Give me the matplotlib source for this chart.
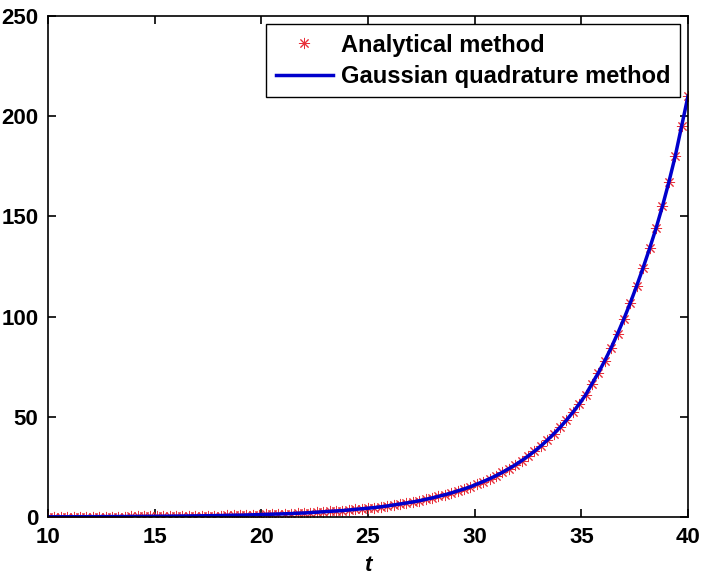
import numpy as np
import matplotlib; matplotlib.use('Agg'); import matplotlib.pyplot as plt

plt.rcParams['font.family'] = ['Liberation Sans', 'DejaVu Sans']

# sample times (step 0.3 from 10 to 40) and values
t = np.linspace(10, 40, 101)
analytical = [0.09, 0.10, 0.11, 0.12, 0.13, 0.14, 0.15, 0.16, 0.17, 0.19,
              0.20, 0.22, 0.23, 0.25, 0.27, 0.29, 0.32, 0.34, 0.37, 0.40,
              0.43, 0.47, 0.51, 0.55, 0.59, 0.64, 0.69, 0.74, 0.80, 0.87,
              0.9, 1.0, 1.1, 1.2, 1.3, 1.4, 1.5, 1.6, 1.7, 1.9,
              2.0, 2.2, 2.4, 2.6, 2.8, 3.0, 3.2, 3.5, 3.8, 4.1,
              4.4, 4.7, 5.1, 5.5, 6.0, 6.5, 7.0, 7.5, 8.1, 8.8,
              9.5, 10.3, 11.1, 12.0, 13.0, 14.0, 15.1, 16.4, 17.7, 19.1,
              20.6, 22.3, 24.1, 26.0, 28.1, 30.4, 32.8, 35.4, 38.3, 41.4,
              44.7, 48.3, 52.2, 56.4, 60.9, 66.5, 72.0, 78.0, 84.5, 91.5,
              99.0, 107.0, 115.5, 124.5, 134.0, 144.0, 155.0, 167.0, 180.0, 195.0,
              210.0]
gaussian = list(analytical)

fig = plt.figure(figsize=(7.06, 5.75), dpi=100)
ax = fig.add_axes([48/706, 1-517/575, 640/706, 501/575])

# matlab-style '*' marker = 8-armed asterisk
ax.plot(t, analytical, ls='none', marker=(8, 2, 0), color='#e8303a', ms=8, mew=0.7,
        label='Analytical method')
ax.plot(t, gaussian, '-', color='#0000cc', lw=2.5, label='Gaussian quadrature method')

ax.set_xlim(10, 40); ax.set_ylim(0, 250)
ax.set_xticks(range(10, 41, 5)); ax.set_yticks(range(0, 251, 50))
ax.tick_params(direction='in', top=True, right=True, length=6, width=1.2,
               labelsize=16, pad=7)
for lab in ax.get_xticklabels() + ax.get_yticklabels():
    lab.set_fontweight('bold')
for s in ax.spines.values():
    s.set_linewidth(1.2)
ax.set_xlabel('t', fontsize=16, fontweight='bold', style='italic', labelpad=5)

leg = ax.legend(loc='upper right', prop={'weight': 'bold', 'size': 17},
                fancybox=False, edgecolor='black', framealpha=1, borderaxespad=0.35,
                borderpad=0.4, handlelength=2.4, handletextpad=0.35, labelspacing=0.35)
leg.get_frame().set_linewidth(1.0)

fig.savefig('out.png', dpi=100)
